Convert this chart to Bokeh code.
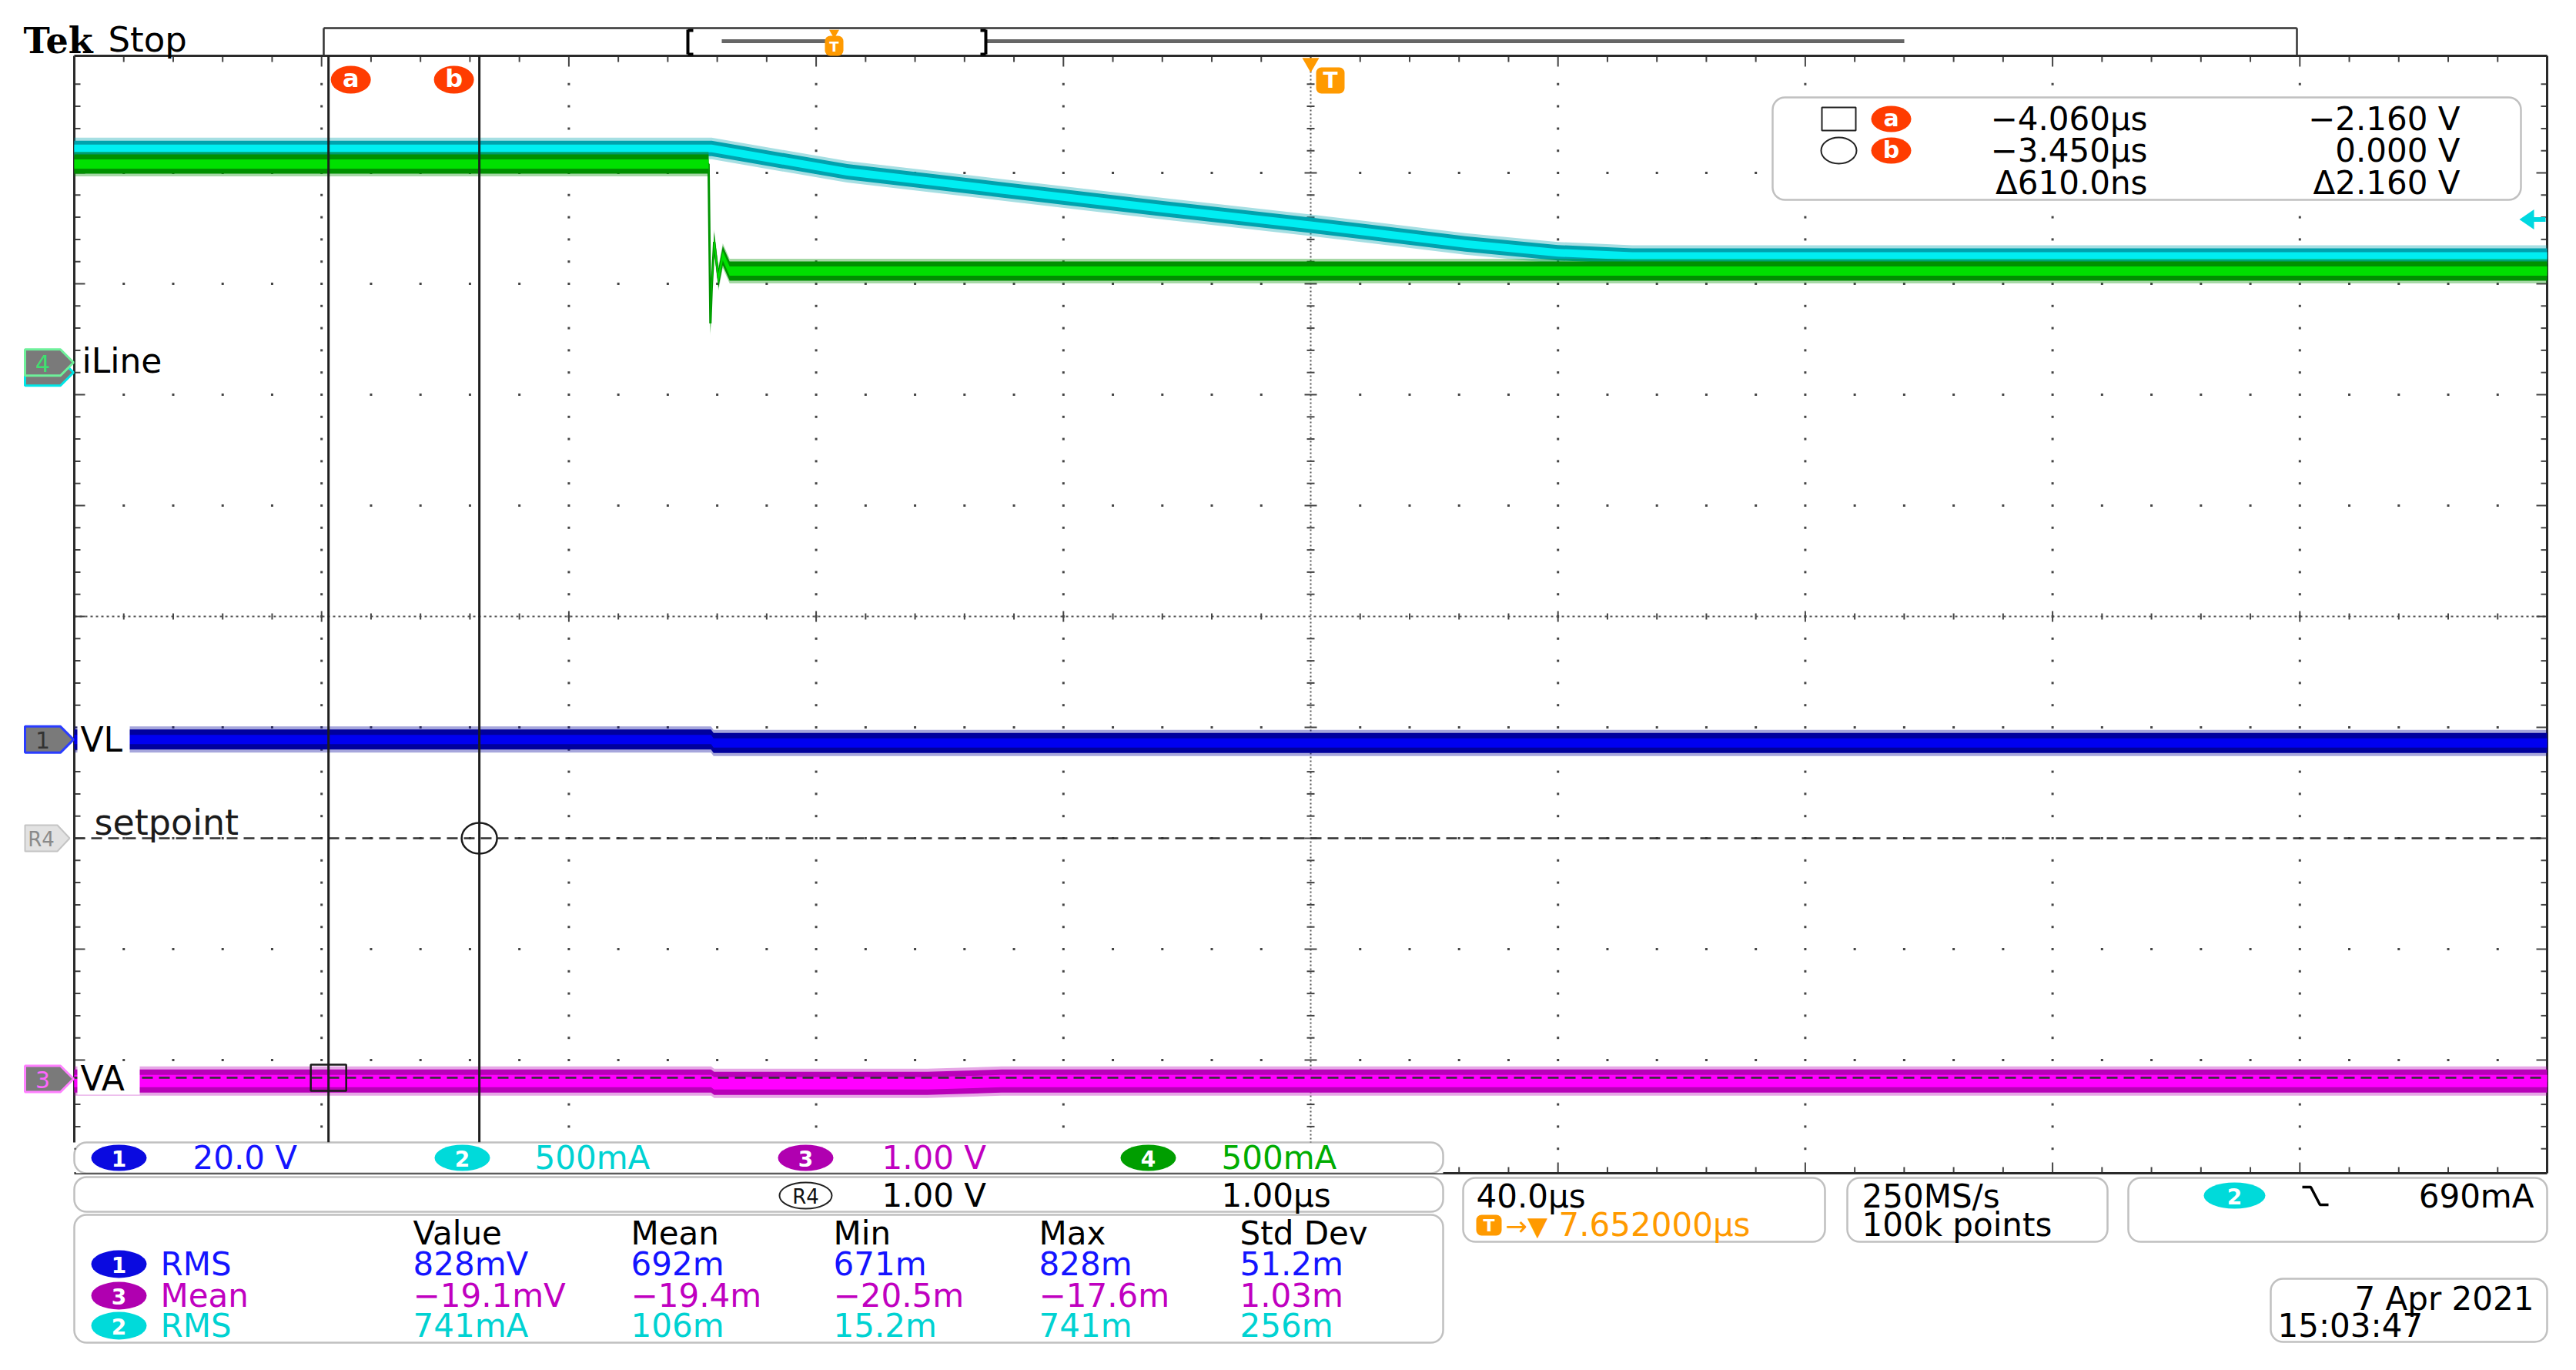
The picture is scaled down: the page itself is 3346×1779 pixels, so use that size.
import numpy as np
from bokeh.plotting import figure
from bokeh.models import Range1d, BoxAnnotation, Label
from bokeh.embed import file_html
from bokeh.resources import INLINE

# ===================== DATA =====================
TIME_DIV_US = 40.0            # main time base, us/div
R4_TIME_DIV_US = 1.00         # reference R4 time base, us/div

# Ch2 - cyan (current), 500 mA/div
ch2_time_us = [-200.0, -96.9, -75.0, -50.0, -25.0, 0.0, 25.0, 40.0, 52.0, 200.0]
ch2_current_mA = [1010, 1010, 905, 824, 742, 664, 580, 540, 525, 525]
# Ch4 - green (iLine), 500 mA/div
ch4_time_us = [-200.0, -97.4, -97.1, -96.9, -96.5, -95.8, -95.1, -94.0, 200.0]
ch4_current_mA = [895, 895, 176, 333, 544, 380, 482, 412, 412]
# Ch1 - blue (VL), 20 V/div
ch1_time_us = [-200.0, -97.0, -96.6, 200.0]
ch1_volt_V = [0.0, 0.0, -0.6, -0.6]
# Ch3 - magenta (VA), 1 V/div
ch3_time_us = [-200.0, -97.0, -96.5, -62.0, -50.0, 200.0]
ch3_volt_mV = [-20, -20, -40, -40, -20, -20]

channel_ids = ["1", "2", "3", "4"]
channel_scale_text = ["20.0 V", "500mA", "1.00 V", "500mA"]
channel_scale = {"1": 20.0, "2": 500.0, "3": 1000.0, "4": 500.0}
channel_position_div = {"1": -1.11, "2": 2.20, "3": -4.17, "4": 2.29}
channel_names = {"4": "iLine", "1": "VL", "3": "VA"}

R4_SCALE_V = 1.00
R4_POSITION_DIV = -2.00
R4_T_OFFSET_DIV = 0.088
R4_NAME = "setpoint"

cursor_names = ["a", "b"]
cursor_time_us = [-4.060, -3.450]
cursor_volt_V = [-2.160, 0.000]

TRIG_LEVEL_mA = 690
TRIG_POS_DIV = 0.078
TRIG_DELAY_TEXT = "7.652000µs"
SAMPLE_TEXT = ["250MS/s", "100k points"]
DATE_TEXT = ["7 Apr 2021", "15:03:47"]

meas_headers = ["Value", "Mean", "Min", "Max", "Std Dev"]
meas_source = ["1", "3", "2"]
meas_type = ["RMS", "Mean", "RMS"]
meas_value = ["828mV", "−19.1mV", "741mA"]
meas_mean = ["692m", "−19.4m", "106m"]
meas_min = ["671m", "−20.5m", "15.2m"]
meas_max = ["828m", "−17.6m", "741m"]
meas_std = ["51.2m", "1.03m", "256m"]

# ===================== STYLE =====================
FONT = "DejaVu Sans"
FS = 42
PILL = {"1": "#0a0ae0", "2": "#00dada", "3": "#b000b0", "4": "#009e00"}
TXT = {"1": "#1414ff", "2": "#00d2d2", "3": "#c000c0", "4": "#00ac00"}
ORANGE = "#ff9a00"
CURSOR_RED = "#ff3c00"
GRID = "#444444"

# screen geometry (reference pixels) -> graticule divisions
CX, CY, DX, DY = 1702.0, 800.0, 321.2, 144.0
OFF = 0
W, H = 3344, 1776


def gx(X):
    return (X - CX) / DX


def gy(Y):
    return (CY - Y) / DY


def wx(px):
    return px / DX


def hy(px):
    return px / DY


p = figure(width=W, height=H,
           x_range=Range1d(gx(OFF), gx(OFF + W)),
           y_range=Range1d(gy(OFF + H), gy(OFF)),
           output_backend="svg", toolbar_location=None,
           x_axis_location=None, y_axis_location=None, min_border=0)
p.grid.visible = False
p.outline_line_color = None
p.background_fill_color = "white"
p.border_fill_color = "white"

XL, XR, YT, YB = 96, 3308, 72, 1523
YBAR = 1483
XBOX = 1874

# ---------------- graticule ----------------
gdx, gdy = [], []
for k in range(-4, 5):
    if k == 0:
        continue
    for m in range(-24, 25):
        gdx.append(k)
        gdy.append(m / 5)
for j in range(-4, 5):
    if j == 0:
        continue
    for n in range(-24, 25):
        if n % 5 == 0:
            continue
        gdx.append(n / 5)
        gdy.append(j)
p.scatter(gdx, gdy, marker="square", size=3, color=GRID, line_color=None)

# centre cross
p.segment(x0=[0], y0=[gy(YT)], x1=[0], y1=[gy(YB)], line_color="#555555", line_width=2, line_dash="2 3")
p.segment(x0=[gx(XL)], y0=[0], x1=[gx(XR)], y1=[0], line_color="#555555", line_width=2, line_dash="3 4")
tx0, ty0, tx1, ty1 = [], [], [], []
for m in range(-24, 25):
    if m == 0:
        continue
    L = 8 if m % 5 == 0 else 5
    tx0.append(-wx(L)); tx1.append(wx(L)); ty0.append(m / 5); ty1.append(m / 5)
for n in range(-24, 25):
    if n == 0:
        continue
    L = 7 if n % 5 == 0 else 4
    tx0.append(n / 5); tx1.append(n / 5); ty0.append(-hy(L)); ty1.append(hy(L))
p.segment(x0=tx0, y0=ty0, x1=tx1, y1=ty1, line_color="#444444", line_width=2)

# border ticks
bx0, by0, bx1, by1 = [], [], [], []
for n in range(-24, 25):
    L = 14 if n % 5 == 0 else 8
    bx0 += [n / 5, n / 5]; bx1 += [n / 5, n / 5]
    by0 += [gy(YT), gy(YB)]; by1 += [gy(YT + L), gy(YB - L)]
for m in range(-24, 25):
    L = 14 if m % 5 == 0 else 8
    by0 += [m / 5, m / 5]; by1 += [m / 5, m / 5]
    bx0 += [gx(XL), gx(XR)]; bx1 += [gx(XL + L), gx(XR - L)]
p.segment(x0=bx0, y0=by0, x1=bx1, y1=by1, line_color="#444444", line_width=2)

# frame
p.segment(x0=[gx(XL), gx(XL), gx(XR), gx(XL)], y0=[gy(YT), gy(YT), gy(YT), gy(YB)],
          x1=[gx(XR), gx(XL), gx(XR), gx(XR)], y1=[gy(YT), gy(YBAR), gy(YB), gy(YB)],
          line_color="#2a2a2a", line_width=3)


# ---------------- waveforms ----------------
def trace(t, vals, ch, dark, bright, h_fuzz, h_out, h_core):
    x = np.asarray(t, dtype=float) / TIME_DIV_US
    y = channel_position_div[ch] + np.asarray(vals, dtype=float) / channel_scale[ch]
    p.line(x, y, line_color=dark, line_width=3)
    p.varea(x=x, y1=y - hy(h_fuzz / 2), y2=y + hy(h_fuzz / 2), fill_color=dark, fill_alpha=0.35)
    p.varea(x=x, y1=y - hy(h_out / 2), y2=y + hy(h_out / 2), fill_color=dark)
    p.varea(x=x, y1=y - hy(h_core / 2), y2=y + hy(h_core / 2), fill_color=bright)


trace(ch1_time_us, ch1_volt_V, "1", "#00009c", "#0000f0", 34, 26, 12)
trace(ch3_time_us, ch3_volt_mV, "3", "#b800b8", "#ff00ff", 38, 30, 16)
trace(ch2_time_us, ch2_current_mA, "2", "#00a2ae", "#00eef2", 28, 20, 10)
trace(ch4_time_us, ch4_current_mA, "4", "#009000", "#00e000", 32, 25, 12)

# ---------------- cursors ----------------
cur_x = [R4_T_OFFSET_DIV + t / R4_TIME_DIV_US for t in cursor_time_us]
cur_y = [R4_POSITION_DIV + v / R4_SCALE_V for v in cursor_volt_V]
p.segment(x0=[gx(XL), gx(XL)], y0=cur_y, x1=[gx(XR), gx(XR)], y1=cur_y,
          line_color="#303030", line_width=2.5, line_dash="14 8")
p.segment(x0=cur_x, y0=[gy(YT)] * 2, x1=cur_x, y1=[gy(YBAR)] * 2,
          line_color="#1e1e1e", line_width=3)
p.rect(x=[cur_x[0]], y=[cur_y[0]], width=wx(46), height=hy(34), fill_alpha=0,
       line_color="#1a1a1a", line_width=2.5)
p.ellipse(x=[cur_x[1]], y=[cur_y[1]], width=wx(46), height=hy(40), fill_alpha=0,
          line_color="#1a1a1a", line_width=2.5)
# cursor name tags at top of screen
tag_dx = [29, -33]
tag_x = [cx + wx(d) for cx, d in zip(cur_x, tag_dx)]
p.ellipse(x=tag_x, y=[gy(103)] * 2, width=wx(52), height=hy(36), fill_color=CURSOR_RED, line_color=None)

# ---------------- trigger marks ----------------
p.scatter(x=[0], y=[gy(81)], marker="inverted_triangle", size=22, color=ORANGE, line_color=None)
trig_y = channel_position_div["2"] + TRIG_LEVEL_mA / channel_scale["2"]
p.patch(x=[gx(3272), gx(3291), gx(3291)], y=[trig_y, trig_y + hy(13), trig_y - hy(13)],
        fill_color="#00d8e0", line_color=None)
p.segment(x0=[gx(3288)], y0=[trig_y], x1=[gx(3306)], y1=[trig_y], line_color="#00d8e0", line_width=6)

# ---------------- record view bar ----------------
p.segment(x0=[gx(937), gx(1281)], y0=[gy(53)] * 2, x1=[gx(1080), gx(2473)], y1=[gy(53)] * 2,
          line_color="#666666", line_width=5)
p.segment(x0=[gx(420), gx(420), gx(2983)], y0=[gy(36), gy(36), gy(36)],
          x1=[gx(2983), gx(420), gx(2983)], y1=[gy(36), gy(72), gy(72)],
          line_color="#333333", line_width=2.5)
p.segment(x0=[gx(893), gx(893), gx(893), gx(1280), gx(1280), gx(1280)],
          y0=[gy(38), gy(39), gy(70), gy(38), gy(39), gy(70)],
          x1=[gx(893), gx(900), gx(900), gx(1280), gx(1273), gx(1273)],
          y1=[gy(70), gy(39), gy(70), gy(70), gy(39), gy(70)],
          line_color="black", line_width=4)
p.scatter(x=[gx(1083)], y=[gy(42)], marker="inverted_triangle", size=13, color=ORANGE, line_color=None)

# ---------------- white backgrounds ----------------
p.quad(left=[gx(XL + 2), gx(2302), gx(100), gx(100)],
       right=[gx(XBOX), gx(3274), gx(168), gx(181)],
       top=[gy(YBAR), gy(126), gy(940), gy(1380)],
       bottom=[gy(YB), gy(259), gy(981), gy(1421)],
       fill_color="white", line_color=None)


# ---------------- channel markers (left) ----------------
def marker_shape(pos, h=34, x0=32, x1=78, xt=95):
    Y = CY - pos * DY
    return ([gx(x0), gx(x1), gx(xt), gx(x1), gx(x0)],
            [gy(Y + h / 2), gy(Y + h / 2), gy(Y), gy(Y - h / 2), gy(Y - h / 2)])


mk_order = ["2", "4", "1", "3"]
mk_line = {"2": "#00e6e6", "4": "#6ef09a", "1": "#2a3cff", "3": "#ff80ff"}
xs, ys = [], []
for ch in mk_order:
    a, b = marker_shape(channel_position_div[ch])
    xs.append(a); ys.append(b)
p.patches(xs, ys, fill_color="#7a7a7a", line_color=[mk_line[c] for c in mk_order], line_width=3)
a, b = marker_shape(R4_POSITION_DIV, x1=74, xt=90)
p.patch(a, b, fill_color="#e2e2e2", line_color="#c4c4c4", line_width=2)

# ---------------- pills ----------------
bar_pill_x = [154, 600, 1046, 1491]
p.ellipse(x=[gx(v) for v in bar_pill_x], y=[gy(1503)] * 4, width=wx(72), height=hy(34),
          fill_color=[PILL[c] for c in channel_ids], line_color=None)
meas_rows_y = [1641, 1682, 1721]
p.ellipse(x=[gx(154)] * 3, y=[gy(v) for v in meas_rows_y], width=wx(72), height=hy(36),
          fill_color=[PILL[c] for c in meas_source], line_color=None)
p.ellipse(x=[gx(1046)], y=[gy(1552)], width=wx(68), height=hy(34), fill_color="white",
          line_color="#222222", line_width=2)
p.ellipse(x=[gx(2902)], y=[gy(1552)], width=wx(80), height=hy(34), fill_color=PILL["2"], line_color=None)
# readout box symbols
p.rect(x=[gx(2388)], y=[gy(154)], width=wx(44), height=hy(30), fill_alpha=0, line_color="#222222", line_width=2)
p.ellipse(x=[gx(2388)], y=[gy(195)], width=wx(46), height=hy(34), fill_alpha=0, line_color="#222222", line_width=2)
p.ellipse(x=[gx(2456)] * 2, y=[gy(154), gy(195)], width=wx(52), height=hy(34), fill_color=CURSOR_RED, line_color=None)
# falling-edge icon
p.line(x=[gx(2990), gx(3001), gx(3013), gx(3024)], y=[gy(1541), gy(1541), gy(1564), gy(1564)],
       line_color="black", line_width=3.5)

# ---------------- rounded boxes ----------------
boxes = [(96, 1874, 1483, 1523), (96, 1874, 1528, 1573), (96, 1874, 1577, 1743),
         (1900, 2370, 1529, 1612), (2399, 2737, 1529, 1612), (2764, 3308, 1529, 1612),
         (2949, 3308, 1660, 1742), (2302, 3274, 126, 259)]
for l, r, t, b in boxes:
    p.add_layout(BoxAnnotation(left=gx(l), right=gx(r), top=gy(t), bottom=gy(b),
                               fill_alpha=0, line_color="#2e2e2e", line_width=2.5,
                               border_radius=16))
# orange T markers
for l, r, t, b in [(1709, 1746, 87, 121), (1071, 1095, 46, 72), (1917, 1950, 1577, 1604)]:
    p.add_layout(BoxAnnotation(left=gx(l), right=gx(r), top=gy(t), bottom=gy(b),
                               fill_color=ORANGE, fill_alpha=1, line_color=None, border_radius=7))


# ---------------- texts ----------------
def lab(X, Y, text, size=FS, color="black", align="left", style="normal", font=FONT):
    p.add_layout(Label(x=gx(X), y=gy(Y), text=text, text_font=font,
                       text_font_size=f"{size}px", text_color=color, text_align=align,
                       text_baseline="middle", text_font_style=style))


lab(30, 52, "Tek", 46, "black", style="bold", font="DejaVu Serif")
lab(140, 51, "Stop", 45, "black")

# channel names
name_y = {ch: CY - channel_position_div[ch] * DY for ch in channel_names}
lab(106, name_y["4"] - 2, channel_names["4"], 44, "black")
lab(104, name_y["1"], channel_names["1"], 44, "black")
lab(104, name_y["3"], channel_names["3"], 44, "black")
lab(122, CY - R4_POSITION_DIV * DY - 21, R4_NAME, 46, "#1a1a1a")

# marker digits
mk_digit_col = {"4": "#3ee070", "1": "#333333", "3": "#ff66ff"}
for ch in ["4", "1", "3"]:
    lab(55, name_y[ch] + 1, ch, 30, mk_digit_col[ch], align="center")
lab(53, CY - R4_POSITION_DIV * DY + 1, "R4", 26, "#8a8a8a", align="center")

# cursor tags
for n, x in zip(cursor_names, tag_x):
    p.add_layout(Label(x=x, y=gy(101), text=n, text_font=FONT, text_font_size="32px",
                       text_color="white", text_align="center", text_baseline="middle",
                       text_font_style="bold"))
# trigger T glyphs
lab(1727.5, 104, "T", 28, "white", align="center", style="bold")
lab(1083, 60, "T", 18, "white", align="center", style="bold")
lab(1933.5, 1591, "T", 22, "white", align="center", style="bold")


# cursor readout
def fmt_us(t):
    return f"{t:.3f}µs".replace("-", "−")


def fmt_v(v):
    return f"{v:.3f} V".replace("-", "−")


ry = [154, 195, 237]
for i, n in enumerate(cursor_names):
    lab(2456, ry[i] - 1, n, 30, "white", align="center", style="bold")
    lab(2789, ry[i], fmt_us(cursor_time_us[i]), FS, "black", align="right")
    lab(3195, ry[i], fmt_v(cursor_volt_V[i]), FS, "black", align="right")
dt_ns = (cursor_time_us[1] - cursor_time_us[0]) * 1000.0
dv = abs(cursor_volt_V[1] - cursor_volt_V[0])
lab(2789, ry[2], f"Δ{dt_ns:.1f}ns", FS, "black", align="right")
lab(3195, ry[2], f"Δ{dv:.3f} V", FS, "black", align="right")

# channel bar
bar_txt_x = [250, 694, 1145, 1586]
for ch, px_, tx_, s in zip(channel_ids, bar_pill_x, bar_txt_x, channel_scale_text):
    lab(px_, 1504, ch, 28, "white", align="center", style="bold")
    lab(tx_, 1503, s, FS, TXT[ch])

# R4 bar
lab(1046, 1553, "R4", 26, "#111111", align="center")
lab(1145, 1552, f"{R4_SCALE_V:.2f} V", FS, "black")
lab(1586, 1552, f"{R4_TIME_DIV_US:.2f}µs", FS, "black")

# measurement table
col_x = [536, 819, 1082, 1349, 1610]
for h_, x_ in zip(meas_headers, col_x):
    lab(x_, 1601, h_, FS, "black")
cols = [meas_value, meas_mean, meas_min, meas_max, meas_std]
for i, src in enumerate(meas_source):
    y_ = meas_rows_y[i]
    lab(154, y_ + 1, src, 28, "white", align="center", style="bold")
    lab(208, y_, meas_type[i], FS, TXT[src])
    for c, x_ in zip(cols, col_x):
        lab(x_, y_, c[i], FS, TXT[src])

# horizontal / acquisition / trigger boxes
lab(1917, 1553, f"{TIME_DIV_US:.1f}µs", FS, "black")
lab(1955, 1591, "→▼", 34, ORANGE)
lab(2024, 1590, TRIG_DELAY_TEXT, FS, ORANGE)
lab(2418, 1553, SAMPLE_TEXT[0], FS, "black")
lab(2418, 1590, SAMPLE_TEXT[1], FS, "black")
lab(2902, 1553, "2", 28, "white", align="center", style="bold")
lab(3291, 1553, f"{TRIG_LEVEL_mA}mA", FS, "black", align="right")
lab(3291, 1686, DATE_TEXT[0], FS, "black", align="right")
lab(2958, 1721, DATE_TEXT[1], FS, "black")

open("out.html", "w").write(file_html(p, INLINE))
